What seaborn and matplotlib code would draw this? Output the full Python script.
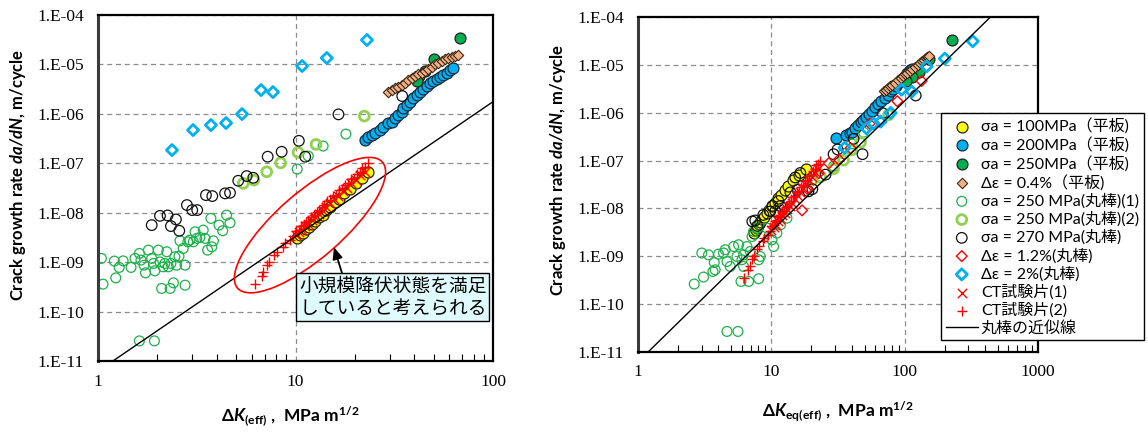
import math
import matplotlib
matplotlib.use("Agg")
import matplotlib.pyplot as plt
import seaborn as sns
from matplotlib.patches import Ellipse
from matplotlib.transforms import ScaledTranslation
from matplotlib.ticker import FixedLocator, FuncFormatter, NullLocator, LogLocator
from matplotlib.font_manager import FontProperties

plt.rcParams['font.family'] = ['Lato', 'DejaVu Sans']
plt.rcParams['mathtext.fontset'] = 'custom'
plt.rcParams['mathtext.rm'] = 'Lato'
plt.rcParams['mathtext.it'] = 'Lato:italic'
plt.rcParams['mathtext.bf'] = 'Lato:bold'
plt.rcParams['mathtext.bfit'] = 'Lato:italic:bold'

# ---------------- data : left chart (ΔK(eff)) ----------------
L_s100_x = [10.2, 10.5, 10.9, 11.3, 11.7, 12.1, 12.6, 13.1, 13.7, 14.3, 15.0, 15.8, 16.7, 17.7, 18.9, 20.2, 21.7, 23.2]
L_s100_y = [3.1e-9, 3.6e-9, 3.9e-9, 4.7e-9, 5.1e-9, 6.0e-9, 6.7e-9, 8.1e-9, 9.1e-9, 1.12e-8, 1.28e-8, 1.62e-8,
            1.90e-8, 2.45e-8, 3.0e-8, 4.0e-8, 5.0e-8, 6.6e-8]
L_s200_x = [22.5, 23.4, 24.3, 25.3, 26.8, 27.8, 29.5, 30.7, 31.9, 33.2, 34.5, 35.1, 36.6, 38.0, 39.5, 41.1, 42.7,
            44.4, 46.2, 48.0, 49.9, 51.9, 53.9, 56.0, 58.3, 60.6, 63.0]
S200_y = [2.95e-7, 3.44e-7, 3.72e-7, 4.03e-7, 4.70e-7, 5.48e-7, 6.43e-7, 6.92e-7, 8.11e-7, 9.46e-7, 1.10e-6,
          1.29e-6, 1.51e-6, 1.76e-6, 2.06e-6, 2.40e-6, 2.80e-6, 3.18e-6, 3.65e-6, 4.14e-6, 4.61e-6, 5.06e-6,
          5.63e-6, 6.09e-6, 6.79e-6, 7.71e-6, 8.34e-6]
L_s250p_x = [68.1, 50.0, 45.0, 42.0, 41.0]
S250P_y = [3.37e-5, 1.3e-5, 7.2e-6, 5.7e-6, 4.6e-6]
L_de04_x = [29.5, 30.7, 31.9, 33.2, 34.5, 35.8, 37.3, 38.7, 40.3, 41.9, 43.5, 45.3, 47.0, 48.9, 50.8, 52.8, 55.0,
            57.1, 59.4, 61.8, 64.2, 66.7]
DE04_y = [2.80e-6, 3.03e-6, 3.28e-6, 3.54e-6, 3.83e-6, 4.26e-6, 4.83e-6, 5.24e-6, 5.82e-6, 6.31e-6, 6.79e-6,
          7.45e-6, 8.07e-6, 8.98e-6, 1.0e-5, 1.08e-5, 1.19e-5, 1.27e-5, 1.37e-5, 1.43e-5, 1.48e-5, 1.55e-5]
L_r250a_x = [1.04, 1.06, 1.21, 1.23, 1.28, 1.34, 1.47, 1.54, 1.62, 1.65, 1.71, 1.74, 1.80, 1.87, 1.91, 1.94, 2.02,
             2.06, 2.10, 2.14, 2.18, 2.23, 2.27, 2.32, 2.34, 2.41, 2.45, 2.50, 2.57, 2.60, 2.70, 2.76, 2.76, 2.85,
             2.92, 3.04, 3.10, 3.16, 3.28, 3.41, 3.48, 3.59, 3.77, 3.73, 3.84, 4.10, 4.28, 4.48, 4.66, 1.62, 1.93,
             10.2, 11.6, 13.8, 18.0]
L_r250a_y = [1.19e-9, 3.59e-10, 1.05e-9, 4.81e-10, 7.82e-10, 1.06e-9, 7.82e-10, 1.19e-9, 1.50e-9, 1.10e-9,
             8.69e-10, 6.07e-10, 1.75e-9, 1.19e-9, 9.42e-10, 6.67e-10, 1.75e-9, 1.01e-9, 2.94e-10, 8.04e-10,
             9.42e-10, 1.62e-9, 8.04e-10, 2.94e-10, 9.42e-10, 3.81e-10, 1.28e-9, 8.69e-10, 1.32e-9, 2.70e-9,
             1.89e-9, 3.42e-10, 8.69e-10, 2.58e-9, 2.79e-9, 2.58e-9, 4.10e-9, 3.02e-9, 3.16e-9, 4.45e-9,
             3.02e-9, 1.75e-9, 2.04e-9, 7.67e-9, 2.70e-9, 5.61e-9, 4.31e-9, 8.93e-9, 6.25e-9, 2.55e-11, 2.55e-11,
             7.64e-8, 1.40e-7, 2.23e-7, 3.90e-7]
L_r250b_x = [5.44, 6.16, 7.15, 8.41, 10.3, 12.7, 22.3]
R250B_y = [3.92e-8, 4.57e-8, 6.73e-8, 1.02e-7, 1.66e-7, 2.41e-7, 9.02e-7]
L_r270_x = [1.87, 2.06, 2.25, 2.34, 2.48, 2.58, 2.82, 3.00, 3.18, 3.52, 3.79, 4.40, 4.66, 5.13, 5.66, 6.11, 7.23,
            8.51, 10.4, 11.2, 16.5, 34.7]
R270_y = [5.61e-9, 8.65e-9, 8.81e-9, 5.36e-9, 7.31e-9, 4.31e-9, 1.43e-8, 1.13e-8, 1.13e-8, 2.27e-8, 2.17e-8,
          2.46e-8, 2.53e-8, 4.43e-8, 5.51e-8, 5.09e-8, 1.36e-7, 1.71e-7, 2.85e-7, 1.36e-7, 9.77e-7, 2.29e-6]
L_de2_x = [2.37, 3.03, 3.73, 4.45, 5.36, 6.69, 7.69, 10.8, 14.4, 23.0]
DE2_y = [1.85e-7, 4.70e-7, 5.93e-7, 6.52e-7, 9.9e-7, 3.03e-6, 2.76e-6, 9.29e-6, 1.35e-5, 3.12e-5]

# CT specimens (same values in both charts)
CT1_x = [10.0, 10.4, 10.8, 11.2, 11.6, 12.1, 12.6, 13.1, 13.7, 14.3, 15.0, 15.7, 16.5, 17.3, 18.2, 19.2, 20.2,
         21.3, 22.4]
CT1_y = [3.5e-9, 4.1e-9, 4.5e-9, 5.4e-9, 6.0e-9, 7.2e-9, 8.1e-9, 9.6e-9, 1.10e-8, 1.33e-8, 1.55e-8, 1.88e-8,
         2.2e-8, 2.7e-8, 3.15e-8, 3.95e-8, 4.6e-8, 5.8e-8, 6.8e-8]
CT2_x = [6.24, 6.74, 6.87, 7.15, 7.37, 7.81, 8.09, 8.61, 8.84, 9.38, 9.7, 10.1, 10.4, 10.7, 11.0, 11.3, 11.6, 12.0,
         12.4, 12.8, 13.2, 13.6, 14.0, 14.5, 15.0, 15.5, 16.0, 16.6, 17.2, 17.8, 18.4, 19.0, 19.7, 20.4, 21.1,
         21.8, 22.5, 23.3]
CT2_y = [3.59e-10, 5.28e-10, 6.37e-10, 8.69e-10, 1.01e-9, 1.39e-9, 1.62e-9, 2.04e-9, 2.39e-9, 2.79e-9, 3.4e-9,
         4.3e-9, 4.5e-9, 5.4e-9, 5.6e-9, 6.6e-9, 6.9e-9, 8.3e-9, 8.9e-9, 1.05e-8, 1.12e-8, 1.33e-8, 1.40e-8,
         1.70e-8, 1.82e-8, 2.18e-8, 2.33e-8, 2.82e-8, 3.05e-8, 3.70e-8, 3.95e-8, 4.75e-8, 5.1e-8, 6.2e-8,
         6.6e-8, 8.0e-8, 8.5e-8, 1.0e-7]

# approximation line for round bars (end points)
FIT_x = [1.19, 440.0]
FIT_y = [1.0e-11, 1.0e-4]

# ---------------- data : right chart (ΔKeq(eff)) ----------------
R_s100_x = [7.45, 7.71, 7.85, 8.12, 8.27, 8.56, 8.86, 9.33, 9.66, 10.2, 10.7, 11.3, 11.9, 12.7, 13.4, 14.6, 16.2, 18.3]
R_s200_x = [30.8, 36.0, 38.6, 40.0, 42.1, 44.3, 46.7, 48.3, 50.9, 53.6, 56.5, 59.5, 62.7, 66.0, 70.7, 74.5, 78.5,
            81.3, 85.6, 88.6, 91.7, 94.9, 98.3, 102, 105, 109, 113]
R_s250p_x = [225, 151, 127, 114, 102]
R_de04_x = [69.5, 71.9, 74.5, 77.1, 79.8, 84.1, 88.6, 93.3, 96.6, 100, 103.5, 109, 113, 119, 125, 130, 134, 139,
            144, 146, 149, 151]
R_r250a_x = [2.64, 3.10, 3.65, 3.01, 3.38, 3.73, 4.02, 4.38, 4.65, 4.92, 5.21, 5.52, 5.68, 6.02, 6.19, 6.56, 6.95,
             8.03, 5.92, 6.75, 8.03, 4.65, 5.62, 7.16, 7.81, 9.29, 10.1, 10.4, 11.0, 11.7, 13.1, 4.51, 8.26, 7.36,
             6.19, 3.79, 29.3, 34.8, 40.0, 49.2]
R_r250a_y = [2.63e-10, 3.68e-10, 4.82e-10, 1.17e-9, 1.07e-9, 7.41e-10, 1.11e-9, 1.17e-9, 7.78e-10, 6.12e-10,
             1.60e-9, 9.91e-10, 1.74e-9, 8.45e-10, 1.07e-9, 1.60e-9, 1.26e-9, 8.45e-10, 2.98e-10, 2.98e-10,
             3.39e-10, 2.69e-11, 2.69e-11, 2.59e-9, 3.88e-9, 3.88e-9, 2.21e-9, 1.60e-9, 3.05e-9, 4.55e-9,
             6.27e-9, 1.37e-9, 9.91e-10, 3.30e-9, 6.12e-10, 5.22e-10, 7.64e-8, 1.40e-7, 2.23e-7, 3.90e-7]
R_r250b_x = [20.3, 23.4, 29.3, 34.8, 40.0, 46.7, 75.8]
R_r270_x = [7.58, 9.82, 10.7, 7.20, 8.71, 7.85, 11.3, 10.2, 11.7, 19.0, 13.9, 15.7, 20.3, 15.1, 16.5, 25.5, 29.3,
            31.4, 41.4, 48.3, 68.4, 121]
R_de12_x = [17.0, 18.6, 22.7, 27.0, 32.1, 39.3, 54.6, 88.1, 134]
R_de12_y = [9.1e-9, 2.56e-8, 5.46e-8, 8.8e-8, 1.05e-7, 1.82e-7, 5.9e-7, 1.74e-6, 4.6e-6]
R_de2_x = [35.4, 51.8, 58.5, 66.0, 78.5, 94.9, 113, 146, 200, 324]

LABELS = ['σa = 100MPa（平板)', 'σa = 200MPa（平板)', 'σa = 250MPa（平板)', 'Δε = 0.4%（平板)',
          'σa = 250 MPa(丸棒)(1)', 'σa = 250 MPa(丸棒)(2)', 'σa = 270 MPa(丸棒)', 'Δε = 1.2%(丸棒)',
          'Δε = 2%(丸棒)', 'CT試験片(1)', 'CT試験片(2)', '丸棒の近似線']

STY = {
    's100': dict(marker='o', s=62, color='#FFFF00', edgecolor='#222222', linewidth=0.9),
    's200': dict(marker='o', s=62, color='#00B0F0', edgecolor='#1a2a3a', linewidth=0.9),
    's250p': dict(marker='o', s=62, color='#00B050', edgecolor='#222222', linewidth=0.9),
    'de04': dict(marker='D', s=28, color='#F4B183', edgecolor='#3d2a18', linewidth=0.8),
    'r250a': dict(marker='o', s=50, facecolor='none', edgecolor='#1DB04B', linewidth=0.9),
    'r250b': dict(marker='o', s=50, facecolor='none', edgecolor='#92D050', linewidth=2.0),
    'r270': dict(marker='o', s=58, facecolor='none', edgecolor='#111111', linewidth=0.9),
    'de12': dict(marker='D', s=30, facecolor='none', edgecolor='#FF0000', linewidth=1.0),
    'de2': dict(marker='D', s=32, facecolor='none', edgecolor='#00B0F0', linewidth=2.0),
    'ct1': dict(marker='x', s=45, color='#FF0000', linewidth=1.0),
    'ct2': dict(marker='+', s=50, color='#FF0000', linewidth=1.0),
}

fig = plt.figure(figsize=(11.48, 4.32), dpi=100)
fig.patch.set_facecolor('white')
ax1 = fig.add_axes([98 / 1148, 1 - 361 / 432, 395 / 1148, 346 / 432])
ax2 = fig.add_axes([638 / 1148, 1 - 352 / 432, 400 / 1148, 335 / 432])


def draw(ax, x, y, key, label):
    sns.scatterplot(x=x, y=y, ax=ax, label=label, legend=False, **STY[key])


def style_axes(ax, xmax):
    ax.set_xscale('log')
    ax.set_yscale('log')
    ax.set_xlim(1, xmax)
    ax.set_ylim(1e-11, 1e-4)
    ax.set_axisbelow(True)
    ax.grid(True, which='major', color='#8c8c8c', linestyle=(0, (4, 3)), linewidth=0.9)
    ax.xaxis.set_major_locator(FixedLocator([v for v in [1, 10, 100, 1000] if v <= xmax]))
    ax.xaxis.set_major_formatter(FuncFormatter(lambda v, p: f'{int(round(v))}'))
    ax.xaxis.set_minor_locator(LogLocator(base=10, subs=range(2, 10), numticks=20))
    ax.xaxis.set_minor_formatter(FuncFormatter(lambda v, p: ''))
    ax.yaxis.set_major_locator(FixedLocator([10.0 ** k for k in range(-11, -3)]))
    ax.yaxis.set_major_formatter(FuncFormatter(lambda v, p: '1.E-%02d' % int(round(-math.log10(v)))))
    ax.yaxis.set_minor_locator(NullLocator())
    ax.tick_params(axis='y', which='both', length=0, pad=10, labelsize=12.5, labelfontfamily='Liberation Serif')
    ax.tick_params(axis='x', which='major', length=0, pad=9, labelsize=12.5, labelfontfamily='Liberation Serif')
    ax.tick_params(axis='x', which='minor', direction='in', length=5, width=0.8, bottom=True, top=False)
    for sp in ax.spines.values():
        sp.set_color('black')
        sp.set_linewidth(1.6)
    ax.spines['left'].set_color('#3a3a3a')
    ax.spines['left'].set_linewidth(2.2)
    ax.set_facecolor('white')


# ---- left chart ----
draw(ax1, L_s100_x, L_s100_y, 's100', LABELS[0])
draw(ax1, L_s200_x, S200_y, 's200', LABELS[1])
draw(ax1, L_s250p_x, S250P_y, 's250p', LABELS[2])
draw(ax1, L_de04_x, DE04_y, 'de04', LABELS[3])
draw(ax1, L_r250a_x, L_r250a_y, 'r250a', LABELS[4])
draw(ax1, L_r250b_x, R250B_y, 'r250b', LABELS[5])
draw(ax1, L_r270_x, R270_y, 'r270', LABELS[6])
draw(ax1, L_de2_x, DE2_y, 'de2', LABELS[8])
draw(ax1, CT1_x, CT1_y, 'ct1', LABELS[9])
draw(ax1, CT2_x, CT2_y, 'ct2', LABELS[10])
sns.lineplot(x=FIT_x, y=FIT_y, ax=ax1, color='black', linewidth=1.0, label=LABELS[11], legend=False)
style_axes(ax1, 100)

# ellipse around the small-scale-yielding data (drawn in pixel units)
ELL_CENTER = (11.84, 5.61e-9)
ell = Ellipse((0, 0), width=192, height=66, angle=41, fill=False, edgecolor='#FF0000', linewidth=1.2,
              transform=ScaledTranslation(ELL_CENTER[0], ELL_CENTER[1], ax1.transData), zorder=4)
ax1.add_patch(ell)

ARROW_TIP = (15.66, 2.01e-9)
ARROW_TAIL = (17.2, 5.98e-10)
ax1.annotate('', xy=ARROW_TIP, xytext=ARROW_TAIL,
             arrowprops=dict(arrowstyle='-|>,head_length=0.7,head_width=0.3', color='black', lw=1.3,
                             shrinkA=0, shrinkB=0), zorder=6)
ax1.text(0.509, 0.246, '小規模降伏状態を満足\nしていると考えられる', transform=ax1.transAxes,
         ha='left', va='top', fontsize=13.5, linespacing=1.05,
         family=['Noto Sans CJK JP', 'DejaVu Sans'],
         bbox=dict(boxstyle='square,pad=0.15', facecolor='#E0FBFE', edgecolor='black', linewidth=1.0), zorder=7)

ax1.set_ylabel(r'Crack growth rate $\mathbfit{da/dN}$, m/cycle', fontsize=12, fontweight='bold')
ax1.yaxis.set_label_coords(-0.177, 0.539)
ax1.set_xlabel(r'Δ$\mathbfit{K}_{\mathbf{(eff)}}$ ,  MPa m$^{\mathbf{1/2}}$', fontsize=12.5, fontweight='bold')
ax1.xaxis.set_label_coords(0.486, -0.125)

# ---- right chart ----
draw(ax2, R_s100_x, L_s100_y, 's100', LABELS[0])
draw(ax2, R_s200_x, S200_y, 's200', LABELS[1])
draw(ax2, R_s250p_x, S250P_y, 's250p', LABELS[2])
draw(ax2, R_de04_x, DE04_y, 'de04', LABELS[3])
draw(ax2, R_r250a_x, R_r250a_y, 'r250a', LABELS[4])
draw(ax2, R_r250b_x, R250B_y, 'r250b', LABELS[5])
draw(ax2, R_r270_x, R270_y, 'r270', LABELS[6])
draw(ax2, R_de12_x, R_de12_y, 'de12', LABELS[7])
draw(ax2, R_de2_x, DE2_y, 'de2', LABELS[8])
draw(ax2, CT1_x, CT1_y, 'ct1', LABELS[9])
draw(ax2, CT2_x, CT2_y, 'ct2', LABELS[10])
sns.lineplot(x=FIT_x, y=FIT_y, ax=ax2, color='black', linewidth=1.0, label=LABELS[11], legend=False)
style_axes(ax2, 1000)

ax2.set_ylabel(r'Crack growth rate $\mathbfit{da/dN}$, m/cycle', fontsize=12, fontweight='bold')
ax2.yaxis.set_label_coords(-0.175, 0.543)
ax2.set_xlabel(r'Δ$\mathbfit{K}_{\mathbf{eq(eff)}}$ ,  MPa m$^{\mathbf{1/2}}$', fontsize=12.5, fontweight='bold')
ax2.xaxis.set_label_coords(0.5, -0.14)

handles, labels = ax2.get_legend_handles_labels()
order = [labels.index(l) for l in LABELS]
leg = ax2.legend([handles[i] for i in order], [labels[i] for i in order],
                 loc='upper left', bbox_to_anchor=(0.7575, 0.7134), borderaxespad=0,
                 frameon=True, fancybox=False, framealpha=1, edgecolor='black',
                 prop=FontProperties(family=['Lato', 'Noto Sans CJK JP', 'DejaVu Sans'], size=11.5),
                 handlelength=2.0, handletextpad=0.2, labelspacing=0.18, borderpad=0.3,
                 scatterpoints=1)
leg.get_frame().set_linewidth(1.0)
leg.set_zorder(10)

fig.savefig('out.png', dpi=100, facecolor='white')
